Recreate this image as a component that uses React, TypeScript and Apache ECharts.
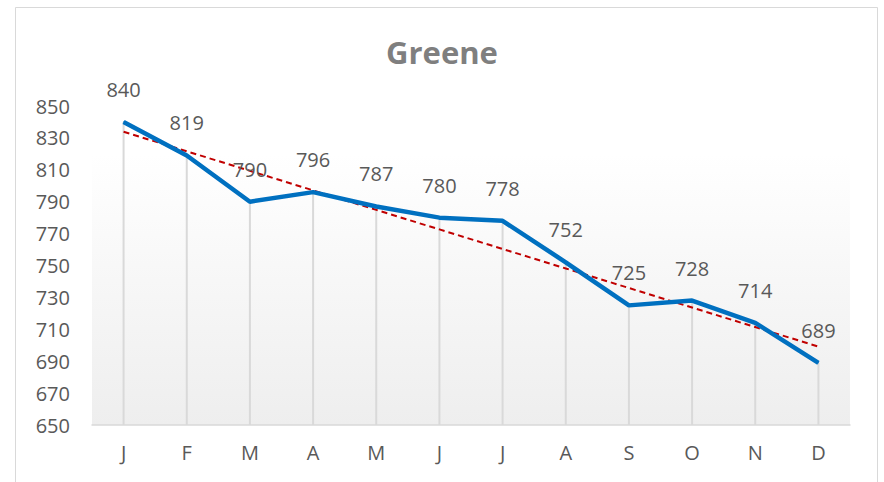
import React, { useEffect, useRef } from "react";
import * as echarts from "echarts";

const categories = ["J", "F", "M", "A", "M", "J", "J", "A", "S", "O", "N", "D"];
const values = [840, 819, 790, 796, 787, 780, 778, 752, 725, 728, 714, 689];
const yMin = 650;
const yMax = 850;
const yStep = 20;
const title = "Greene";

function linearTrend(ys: number[]): number[] {
  const n = ys.length;
  const xs = ys.map((_, i) => i + 1);
  const mx = xs.reduce((a, b) => a + b, 0) / n;
  const my = ys.reduce((a, b) => a + b, 0) / n;
  let sxy = 0;
  let sxx = 0;
  for (let i = 0; i < n; i++) {
    sxy += (xs[i] - mx) * (ys[i] - my);
    sxx += (xs[i] - mx) * (xs[i] - mx);
  }
  const slope = sxy / sxx;
  return xs.map((x) => my + slope * (x - mx));
}

export default function App() {
  const ref = useRef<HTMLDivElement>(null);
  useEffect(() => {
    if (!ref.current) return;
    const chart = echarts.init(ref.current, null, { renderer: "svg" });
    const trend = linearTrend(values);
    const font = "'Open Sans', 'Noto Sans', sans-serif";
    chart.setOption({
      animation: false,
      backgroundColor: "#ffffff",
      title: {
        text: title,
        left: "center",
        top: 31,
        textStyle: { fontFamily: font, fontSize: 31, fontWeight: "bold", color: "#7f7f7f" },
      },
      graphic: [
        {
          type: "rect",
          shape: { x: 15.5, y: 7.5, width: 862, height: 490 },
          style: { fill: "none", stroke: "#d9d9d9", lineWidth: 1 },
          silent: true,
          z: -1,
        },
      ],
      grid: {
        left: 92,
        right: 34,
        top: 106,
        bottom: 57,
        show: true,
        borderWidth: 0,
        backgroundColor: new echarts.graphic.LinearGradient(0, 0, 0, 1, [
          { offset: 0, color: "#ffffff" },
          { offset: 0.15, color: "#ffffff" },
          { offset: 1, color: "#eeeeee" },
        ]),
      },
      xAxis: {
        type: "category",
        data: categories,
        boundaryGap: true,
        axisLine: { show: true, lineStyle: { color: "#d9d9d9", width: 1.5 } },
        axisTick: { show: false },
        axisLabel: { color: "#595959", fontFamily: font, fontSize: 20, margin: 17 },
        splitLine: { show: false },
      },
      yAxis: {
        type: "value",
        min: yMin,
        max: yMax,
        interval: yStep,
        axisLine: { show: false },
        axisTick: { show: false },
        splitLine: { show: false },
        axisLabel: { color: "#595959", fontFamily: font, fontSize: 20, margin: 22 },
      },
      series: [
        {
          type: "bar",
          data: values,
          barWidth: 2,
          itemStyle: { color: "#d9d9d9" },
          silent: true,
          z: 1,
        },
        {
          type: "line",
          data: trend,
          showSymbol: false,
          symbol: "none",
          lineStyle: { color: "#c00000", width: 2, type: [6, 4] },
          silent: true,
          z: 3,
        },
        {
          type: "line",
          data: values,
          symbol: "circle",
          showSymbol: true,
          symbolSize: 1,
          itemStyle: { color: "#0070c0" },
          lineStyle: { color: "#0070c0", width: 4.5 },
          label: {
            show: true,
            position: "top",
            distance: 22,
            color: "#595959",
            fontFamily: font,
            fontSize: 20,
          },
          labelLayout: { hideOverlap: false },
          z: 4,
        },
      ],
    });
    return () => chart.dispose();
  }, []);
  return (
    <div
      ref={ref}
      style={{ position: "absolute", left: 0, top: 0, width: 884, height: 482 }}
    />
  );
}
